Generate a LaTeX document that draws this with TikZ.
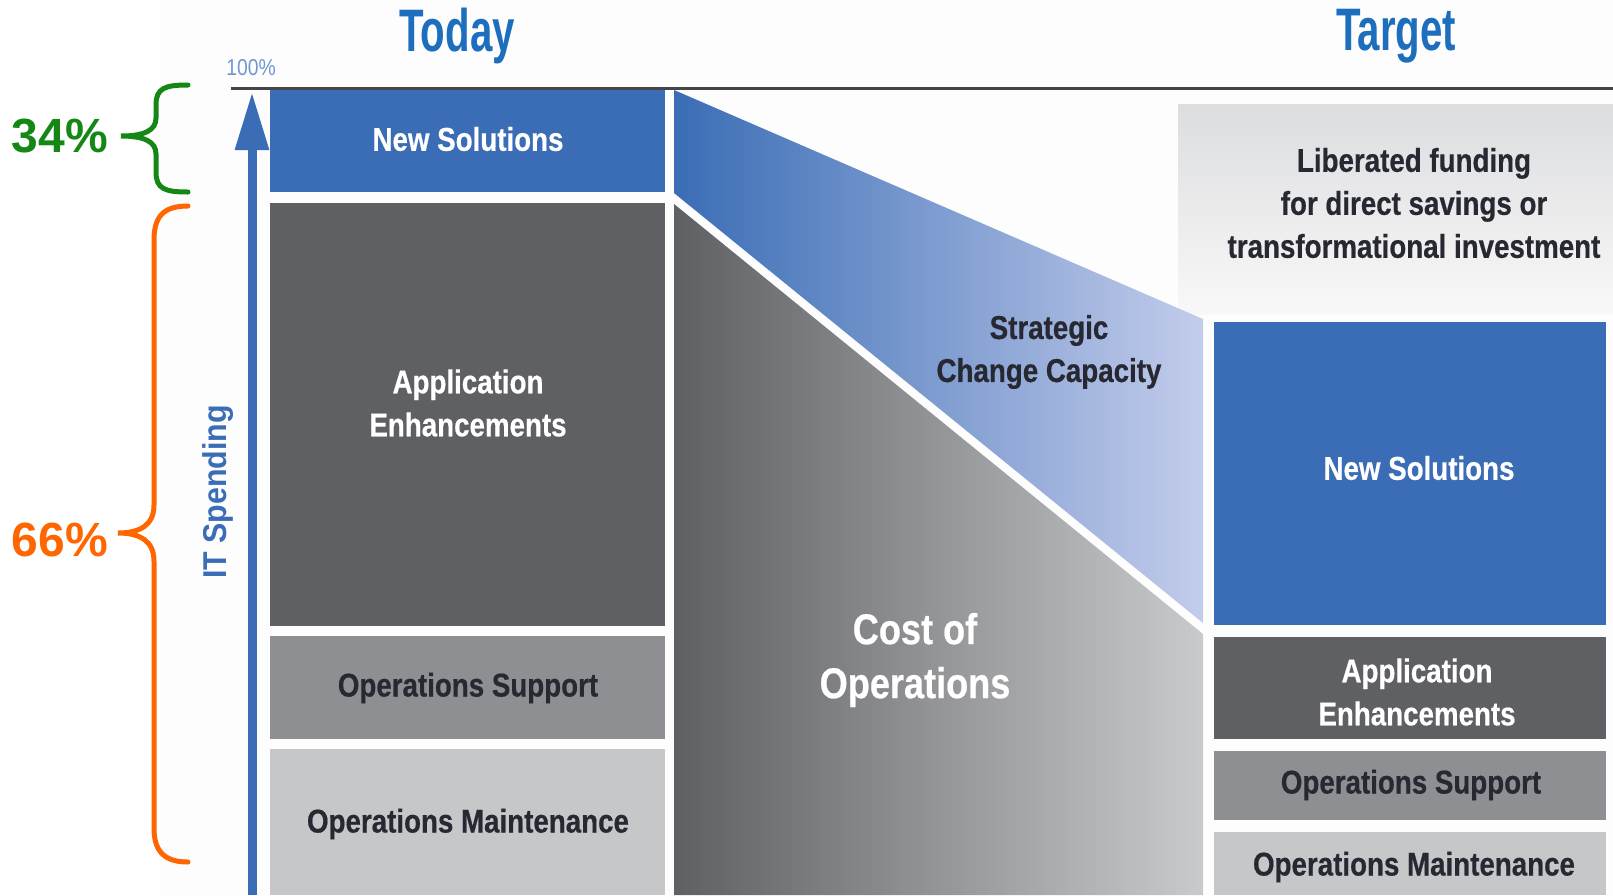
\documentclass[tikz,border=0pt]{standalone}
\usepackage{fontspec}
\setmainfont{Liberation Sans}
\newfontfamily\condf{Liberation Sans}[FakeStretch=0.84, BoldFeatures={FakeBold=0.5}]
\newfontfamily\titlef{Liberation Sans}[FakeStretch=0.67]
\newfontfamily\itf{Liberation Sans}[FakeStretch=0.92]
\usetikzlibrary{arrows.meta}
\definecolor{nsblue}{RGB}{58,109,181}
\definecolor{aegray}{RGB}{95,96,99}
\definecolor{osgray}{RGB}{142,143,147}
\definecolor{omgray}{RGB}{198,199,201}
\definecolor{titleblue}{RGB}{30,110,190}
\definecolor{axisblue}{RGB}{58,109,181}
\definecolor{pctblue}{RGB}{110,151,211}
\definecolor{txtdark}{RGB}{40,40,50}
\definecolor{linegray}{RGB}{70,70,70}
\definecolor{bracegreen}{RGB}{20,135,20}
\definecolor{braceorange}{RGB}{255,102,0}
\definecolor{bluelight}{RGB}{195,204,235}
\definecolor{graylight}{RGB}{201,202,204}
\definecolor{libtop}{RGB}{220,221,223}
\definecolor{libbot}{RGB}{248,248,248}
\definecolor{bgoff}{RGB}{253,253,253}
\begin{document}
\begin{tikzpicture}[x=1pt,y=-1pt,
  lbl/.style={font=\condf\bfseries\fontsize{33}{43}\selectfont, align=center, inner sep=0pt},
  wlbl/.style={lbl, text=white},
  dlbl/.style={lbl, text=txtdark},
  ttl/.style={font=\titlef\bfseries\fontsize{60}{60}\selectfont, text=titleblue, inner sep=0pt},
  pct/.style={font=\bfseries\fontsize{48}{48}\selectfont, inner sep=0pt},
  brace/.style={line width=5pt, line cap=round}]
\useasboundingbox (0,0) rectangle (1613,895);
\fill[white] (0,0) rectangle (1613,895);
\fill[bgoff] (160,0) rectangle (1613,895);
% liberated funding box
\shade[top color=libtop, bottom color=libbot] (1178,104) rectangle (1613,314);
% left column
\fill[nsblue] (270,90) rectangle (665,192);
\fill[aegray] (270,203) rectangle (665,626);
\fill[osgray] (270,636) rectangle (665,739);
\fill[omgray] (270,749) rectangle (665,895);
% middle
\shade[left color=nsblue, right color=bluelight] (674,90) -- (1203,319) -- (1203,623) -- (674,193) -- cycle;
\shade[left color=aegray, right color=graylight] (674,204) -- (1203,634) -- (1203,895) -- (674,895) -- cycle;
% right column
\fill[nsblue] (1214,322) rectangle (1606,625);
\fill[aegray] (1214,637) rectangle (1606,739);
\fill[osgray] (1214,751) rectangle (1606,820);
\fill[omgray] (1214,832) rectangle (1606,895);
% top line
\draw[linegray, line width=3pt] (231,88) -- (1613,88);
% axis
\coordinate (axb) at (252,895);
\coordinate (axt) at (252,92);
\draw[axisblue, line width=9pt, -{Triangle[width=32pt,length=58pt]}] (axb) -- (axt);
% titles
\node[ttl] (today) at (457,36) {Today};
\node[ttl] (target) at (1396,36) {Target};
\node[font=\condf\fontsize{23}{23}\selectfont, text=pctblue, inner sep=0pt] (hundred) at (251,68) {100\%};
\node[font=\itf\bfseries\fontsize{33}{33}\selectfont, text=axisblue, rotate=90, inner sep=0pt] (itsp) at (218,492) {IT Spending};
% left labels
\node[wlbl] (lns) at (468,139) {New Solutions};
\node[wlbl] (lae) at (468,403) {Application\\Enhancements};
\node[dlbl] (los) at (468,688) {Operations Support};
\node[dlbl] (lom) at (468,824) {Operations Maintenance};
% middle labels
\node[dlbl] (scc) at (1049,352) {Strategic\\Change Capacity};
\node[lbl, text=white, font=\condf\bfseries\fontsize{43}{54}\selectfont] (coo) at (915,660) {Cost of\\Operations};
% right labels
\node[dlbl] (lib) at (1414,203) {Liberated funding\\for direct savings or\\transformational investment};
\node[wlbl] (rns) at (1419,468) {New Solutions};
\node[wlbl] (rae) at (1417,692) {Application\\Enhancements};
\node[dlbl] (ros) at (1411,785) {Operations Support};
\node[dlbl] (rom) at (1414,867) {Operations Maintenance};
% braces
\draw[brace, bracegreen] (188,85) .. controls (165,85) and (156,88) .. (156,105) -- (156,118) .. controls (156,130) and (145,136) .. (121,136) .. controls (145,136) and (156,142) .. (156,154) -- (156,172) .. controls (156,189) and (165,192) .. (188,192);
\draw[brace, braceorange] (188,206) .. controls (165,206) and (154,215) .. (154,240) -- (154,505) .. controls (154,525) and (140,533) .. (118,533) .. controls (140,533) and (154,541) .. (154,561) -- (154,828) .. controls (154,852) and (165,862) .. (188,862);
\node[pct, text=bracegreen] (p34) at (60,136) {34\%};
\node[pct, text=braceorange] (p66) at (60,540) {66\%};
\end{tikzpicture}
\end{document}
